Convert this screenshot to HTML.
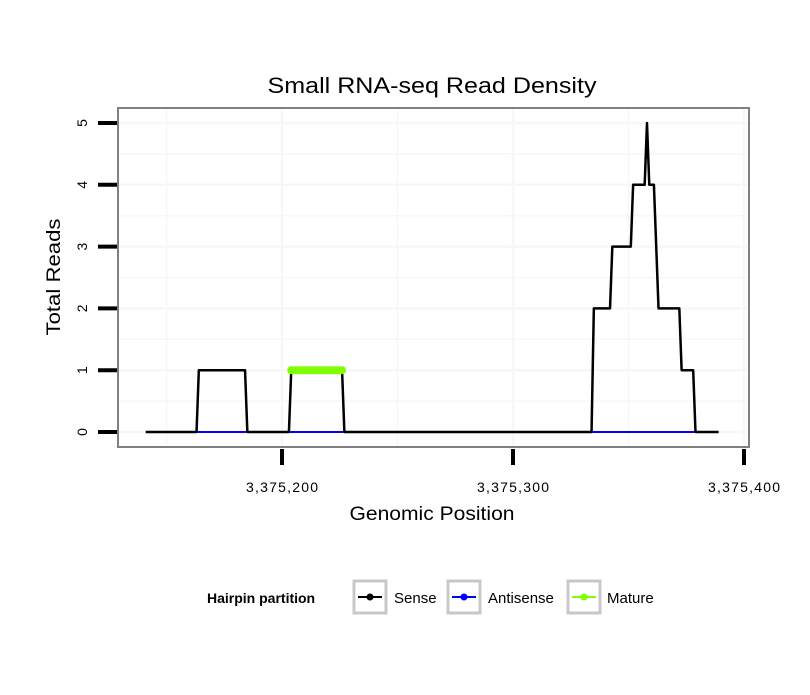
<!DOCTYPE html>
<html><head><meta charset="utf-8"><style>
body{margin:0;background:#fff;}
svg text{font-family:"Liberation Sans",sans-serif;}
</style></head><body>
<svg id="chart" width="810" height="690" xmlns="http://www.w3.org/2000/svg">
<rect width="810" height="690" fill="#fff"/>
<text x="432" y="93" font-size="22" text-anchor="middle" textLength="329" lengthAdjust="spacingAndGlyphs">Small RNA-seq Read Density</text>
<rect x="118" y="108" width="631" height="339" fill="#fff"/>
<g id="grid"></g>
<g id="series"></g>
<rect x="118" y="108" width="631" height="339" fill="none" stroke="#808080" stroke-width="2"/>
<g id="axes"></g>
<text x="432" y="520" font-size="19" text-anchor="middle" textLength="165" lengthAdjust="spacingAndGlyphs">Genomic Position</text>
<text transform="translate(60,277) rotate(-90)" font-size="19" text-anchor="middle" textLength="117" lengthAdjust="spacingAndGlyphs">Total Reads</text>
<g>
<text x="207" y="603" font-size="14" font-weight="bold">Hairpin partition</text>
<g>
<rect x="354" y="581" width="32" height="32" fill="#fff" stroke="#c8c8c8" stroke-width="3"/>
<line x1="358" y1="597" x2="382" y2="597" stroke="#000" stroke-width="2"/><circle cx="370" cy="597" r="3.5" fill="#000"/>
<text x="394" y="603" font-size="15">Sense</text></g>
<g>
<rect x="448" y="581" width="32" height="32" fill="#fff" stroke="#c8c8c8" stroke-width="3"/>
<line x1="452" y1="597" x2="476" y2="597" stroke="#0000ff" stroke-width="2"/><circle cx="464" cy="597" r="3.5" fill="#0000ff"/>
<text x="488" y="603" font-size="15">Antisense</text></g>
<g>
<rect x="568" y="581" width="32" height="32" fill="#fff" stroke="#c8c8c8" stroke-width="3"/>
<line x1="572" y1="597" x2="596" y2="597" stroke="#7fff00" stroke-width="2"/><circle cx="584" cy="597" r="3.5" fill="#7fff00"/>
<text x="607" y="603" font-size="15">Mature</text></g>
</g>
</svg>
<script>
const base = 3375000;
const sensePos = [141,163,164,184,185,203,204,226,227,334,335,342,343,351,352,357,358,359,361,363,372,373,378,379,389];
const senseVal = [0,0,1,1,0,0,1,1,0,0,2,2,3,3,4,4,5,4,4,2,2,1,1,0,0];
const antisenseStarts = [163,203,334];
const antisenseEnds = [185,227,379];
const maturePos = [204,205,206,207,208,209,210,211,212,213,214,215,216,217,218,219,220,221,222,223,224,225,226];
const matureVal = [1,1,1,1,1,1,1,1,1,1,1,1,1,1,1,1,1,1,1,1,1,1,1];
const xTicks = [3375200,3375300,3375400];
const xTickLabels = ["3,375,200","3,375,300","3,375,400"];
const yTicks = [0,1,2,3,4,5];

const NS="http://www.w3.org/2000/svg";
function xs(g){return 282+(g-3375200)*2.31;}
function ys(v){return 432-v*61.8;}
function mk(tag,attrs,parent){const e=document.createElementNS(NS,tag);for(const k in attrs)e.setAttribute(k,attrs[k]);parent.appendChild(e);return e;}
const grid=document.getElementById('grid'),ser=document.getElementById('series'),axes=document.getElementById('axes');
for(let v=-0.5;v<=5.5;v+=0.5){const y=ys(v);if(y<109||y>446)continue;
 const l=mk('line',{x1:119,x2:748,y1:y,y2:y,stroke:'#f7f7f7','stroke-width':v%1===0?2.5:1.5},grid);
 
 }
for(let g=3375150;g<=3375400;g+=50){const x=xs(g);if(x>748)continue;
 const l=mk('line',{x1:x,x2:x,y1:109,y2:446,stroke:'#f7f7f7','stroke-width':g%100===0?2.5:1.5},grid);
 
 }
const pts=sensePos.map((p,i)=>xs(base+p)+','+ys(senseVal[i])).join(' ');
const sl=mk('polyline',{points:pts,fill:'none',stroke:'#000','stroke-width':2.5,'stroke-linejoin':'round'},ser);


antisenseStarts.forEach((s,i)=>{
 const l=mk('line',{x1:xs(base+s)+1,x2:xs(base+antisenseEnds[i])-1,y1:ys(0),y2:ys(0),stroke:'#0000ff','stroke-width':2},ser);
 
 });
const ml=mk('polyline',{points:maturePos.map((p,i)=>xs(base+p)+','+ys(matureVal[i])).join(' '),fill:'none',stroke:'#7fff00','stroke-width':2.5},ser);


maturePos.forEach((p,i)=>{
 const c=mk('circle',{cx:xs(base+p),cy:ys(matureVal[i]),r:4,fill:'#7fff00'},ser);
 
 });
yTicks.forEach(v=>{const y=ys(v);
 const t=mk('line',{x1:98,x2:117,y1:y,y2:y,stroke:'#000','stroke-width':4},axes);
 
 
 const tx=mk('text',{transform:`translate(87,${y}) rotate(-90)`,'font-size':14,'text-anchor':'middle'},axes);
 tx.textContent=String(v);
 
 });
xTicks.forEach((g,i)=>{const x=xs(g);
 const t=mk('line',{x1:x,x2:x,y1:449,y2:465,stroke:'#000','stroke-width':4},axes);
 
 
 const tx=mk('text',{x:x,y:492,'font-size':14,'text-anchor':'middle',textLength:72,lengthAdjust:'spacing'},axes);
 tx.textContent=xTickLabels[i];
 
 });
</script>
</body></html>
